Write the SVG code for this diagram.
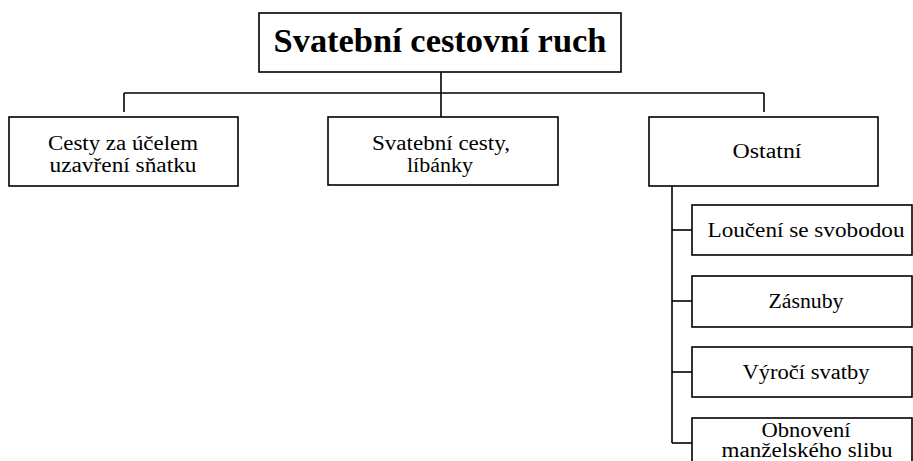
<svg xmlns="http://www.w3.org/2000/svg" width="913" height="461" viewBox="0 0 913 461">
<style>
  .box { fill: #ffffff; stroke: #000000; stroke-width: 1.6; }
  .conn { fill: none; stroke: #000000; stroke-width: 1.6; }
  .t { font-family: "Liberation Serif", "Times New Roman", serif; font-size: 20px; fill: #000000; text-anchor: middle; }
  .title { font-family: "Liberation Serif", "Times New Roman", serif; font-size: 34px; font-weight: bold; fill: #000000; text-anchor: middle; }
</style>
<rect width="913" height="461" fill="#ffffff"/>
<g id="connectors">
  <path class="conn" d="M441 72 V117"/>
  <path class="conn" d="M124 93 H764"/>
  <path class="conn" d="M124 93 V112"/>
  <path class="conn" d="M764 93 V112"/>
  <path class="conn" d="M672 186 V443"/>
  <path class="conn" d="M672 230 H692"/>
  <path class="conn" d="M672 301 H692"/>
  <path class="conn" d="M672 372 H692"/>
  <path class="conn" d="M672 443 H692"/>
</g>
<g id="root">
  <rect class="box" x="259" y="13" width="362" height="59"/>
  <text class="title" x="440" y="52" textLength="333" lengthAdjust="spacingAndGlyphs">Svatební cestovní ruch</text>
</g>
<g id="n-cesty">
  <rect class="box" x="9" y="117" width="229" height="69"/>
  <text class="t" x="123" y="150" textLength="150" lengthAdjust="spacingAndGlyphs">Cesty za účelem</text>
  <text class="t" x="123" y="172" textLength="147" lengthAdjust="spacingAndGlyphs">uzavření sňatku</text>
</g>
<g id="n-svatebni">
  <rect class="box" x="328" y="117" width="230" height="68"/>
  <text class="t" x="441" y="150" textLength="138" lengthAdjust="spacingAndGlyphs">Svatební cesty,</text>
  <text class="t" x="440" y="172" textLength="66" lengthAdjust="spacingAndGlyphs">líbánky</text>
</g>
<g id="n-ostatni">
  <rect class="box" x="649" y="117" width="229" height="69"/>
  <text class="t" x="767" y="158" textLength="69" lengthAdjust="spacingAndGlyphs">Ostatní</text>
</g>
<g id="n-louceni">
  <rect class="box" x="692" y="205" width="220" height="50"/>
  <text class="t" x="806" y="237" textLength="197" lengthAdjust="spacingAndGlyphs">Loučení se svobodou</text>
</g>
<g id="n-zasnuby">
  <rect class="box" x="692" y="276" width="220" height="51"/>
  <text class="t" x="806" y="308" textLength="75" lengthAdjust="spacingAndGlyphs">Zásnuby</text>
</g>
<g id="n-vyroci">
  <rect class="box" x="692" y="347" width="220" height="50"/>
  <text class="t" x="806" y="379" textLength="127" lengthAdjust="spacingAndGlyphs">Výročí svatby</text>
</g>
<g id="n-obnoveni">
  <rect class="box" x="692" y="418" width="220" height="60"/>
  <text class="t" x="806" y="437" textLength="89" lengthAdjust="spacingAndGlyphs">Obnovení</text>
  <text class="t" x="807" y="457" textLength="171" lengthAdjust="spacingAndGlyphs">manželského slibu</text>
</g>
</svg>
